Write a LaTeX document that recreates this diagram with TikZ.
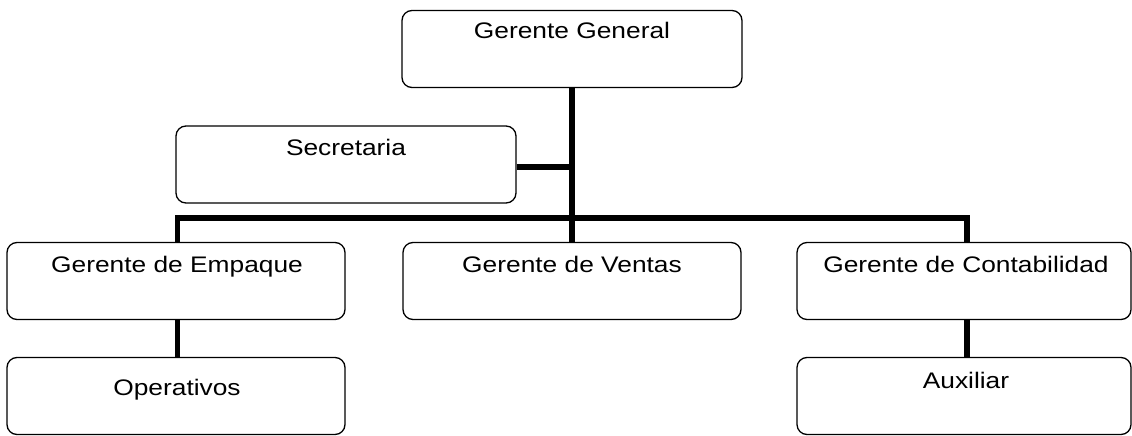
\documentclass[tikz,border=0pt]{standalone}
\usepackage{fontspec}
\setmainfont{Liberation Sans}[FakeStretch=1.17]
\begin{document}
\begin{tikzpicture}[x=1pt,y=-1pt,
  box/.style={draw, line width=1.3pt, rounded corners=10pt, inner sep=0pt, minimum width=#1, minimum height=77pt},
  box/.default=338pt,
  lbl/.style={anchor=base, inner sep=0pt, font=\fontsize{22.5}{26}\selectfont},
  conn/.style={line width=5.5pt, line join=miter}]
\useasboundingbox (0,0) rectangle (1132,436);
% boxes
\node[box=340pt] (gg) at (572,49) {};
\node[box=340pt] (sec) at (346,164.5) {};
\node[box=338pt] (emp) at (176,281) {};
\node[box=338pt] (ven) at (572,281) {};
\node[box=334pt] (con) at (964,281) {};
\node[box=338pt] (op) at (176,396) {};
\node[box=334pt] (aux) at (964,396) {};
% labels
\node[lbl] (tgg) at (572,39) {Gerente General};
\node[lbl] (tsec) at (346,155) {Secretaria};
\node[lbl] (temp) at (177,272) {Gerente de Empaque};
\node[lbl] (tven) at (572,272) {Gerente de Ventas};
\node[lbl] (tcon) at (966,272) {Gerente de Contabilidad};
\node[lbl] (top) at (177,395) {Operativos};
\node[lbl] (taux) at (966,388) {Auxiliar};
% connectors
\coordinate (bus) at (572,218);
\coordinate (busL) at (177.5,218);
\coordinate (busR) at (967,218);
\draw[conn] (gg.south) -- (ven.north);
\draw[conn] (sec.east |- 0,167) -- (572,167);
\draw[conn] (busL |- emp.north) -- (busL) -- (busR) -- (busR |- con.north);
\draw[conn] (busL |- emp.south) -- (busL |- op.north);
\draw[conn] (busR |- con.south) -- (busR |- aux.north);
\end{tikzpicture}
\end{document}
